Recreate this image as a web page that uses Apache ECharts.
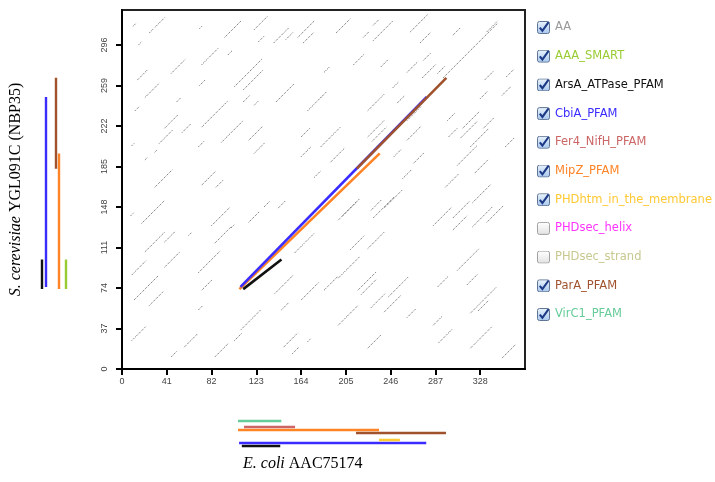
<!DOCTYPE html>
<html>
<head>
<meta charset="utf-8">
<script src="https://cdn.jsdelivr.net/npm/echarts@6/dist/echarts.min.js"></script>
<style>
  html, body { margin: 0; padding: 0; background: #fff; }
  #main { width: 715px; height: 482px; }
</style>
</head>
<body>
<div id="main"></div>
<script>
// axis extents (residues) and tick labels
const ecoliLength = 369;
const yeastLength = 328;
const xTicks = [0, 41, 82, 123, 164, 205, 246, 287, 328];
const yTicks = [0, 37, 74, 111, 148, 185, 222, 259, 296];

// legend entries, in order
const legendNames = ['AA', 'AAA_SMART', 'ArsA_ATPase_PFAM', 'CbiA_PFAM', 'Fer4_NifH_PFAM', 'MipZ_PFAM',
  'PHDhtm_in_the_membrane', 'PHDsec_helix', 'PHDsec_strand', 'ParA_PFAM', 'VirC1_PFAM'];
const legendChecked = [true, true, true, true, true, true, true, false, false, true, true];

// domain ranges on each protein (null = not shown)
const domainNames = ['AAA_SMART', 'ArsA_ATPase_PFAM', 'CbiA_PFAM', 'Fer4_NifH_PFAM', 'MipZ_PFAM',
  'PHDhtm_in_the_membrane', 'PHDsec_helix', 'PHDsec_strand', 'ParA_PFAM', 'VirC1_PFAM'];
const ecoliStart = [null, 111, 108.5, 113, 107.5, 236, null, null, 215, 107.5];
const ecoliEnd   = [null, 146, 279, 159.5, 236, 255, null, null, 297, 147];
const yeastStart = [73, 73, 75, null, 73, null, null, null, 183, null];
const yeastEnd   = [100, 100, 248.5, null, 197, null, null, null, 266, null];

// dot plot matches: [ecoli pos, yeast pos, run length]
const aaSegments = [
  [30,312,9],[10,313,3],[15,296,3],[25,307,4],[71,311,2],[94,303,15],[121,310,12],[125,299,5],
  [139,298,14],[150,301,7],[161,303,15],[166,298,10],[73,278,15],[45,270,13],[14,264,10],[97,287,4],
  [103,258,25],[111,255,18],[21,248,13],[50,244,4],[71,259,5],[73,221,24],[111,244,6],[121,241,4],
  [141,244,17],[170,236,13],[12,236,4],[39,220,12],[55,216,8],[91,207,20],[116,209,13],[121,197,10],
  [164,212,8],[164,194,9],[34,206,12],[70,203,5],[30,166,16],[73,168,13],[86,166,7],[176,175,6],
  [9,204,2],[21,191,2],[30,198,2],
  [18,133,21],[8,140,3],[21,107,18],[39,116,10],[61,122,3],[82,131,17],[116,134,10],[130,148,5],
  [143,147,7],[85,115,15],[39,93,14],[9,86,13],[70,88,20],[73,72,10],[11,63,22],[25,58,13],
  [100,129,3],[140,69,17],[148,115,21],[158,106,18],[164,63,16],[146,54,7],[70,54,4],[9,26,13],
  [57,20,12],[45,11,5],[85,11,12],[103,26,7],[109,36,18],[148,20,13],[156,14,6],[170,25,3],[112,73,4],
  [196,307,13],[221,303,5],[230,314,5],[230,300,18],[264,308,16],[303,305,7],[334,308,10],[212,278,10],
  [237,276,7],[185,271,5],[261,271,10],[273,298,10],[276,282,7],[275,266,12],[289,270,7],[294,266,50],
  [332,264,8],[352,267,7],[248,257,5],[182,248,5],[328,247,7],[348,250,8],[225,236,15],[252,243,7],
  [261,227,13],[298,227,7],[312,220,15],[331,220,10],[299,212,8],[310,211,15],[319,203,17],[182,203,18],
  [191,189,13],[225,212,15],[229,208,13],[249,194,7],[267,188,10],[261,209,13],[307,186,18],[323,179,12],
  [351,203,8],[257,174,8],[296,166,12],
  [198,136,20],[202,140,13],[228,145,10],[230,138,20],[240,147,17],[285,131,17],[303,138,15],[303,127,13],
  [321,130,18],[321,152,17],[334,134,15],[209,109,13],[225,110,15],[198,83,20],[185,72,13],[216,72,17],
  [219,68,14],[244,66,18],[289,75,10],[307,90,20],[316,77,10],[228,56,13],[240,52,15],[198,40,18],
  [261,47,8],[285,40,8],[319,51,24],[326,53,10],[225,19,12],[290,24,12],[319,19,20],[348,10,12]
];

// styles
const colors = {
  'AA': '#999999', 'AAA_SMART': '#99cc33', 'ArsA_ATPase_PFAM': '#111111', 'CbiA_PFAM': '#3a2cff',
  'Fer4_NifH_PFAM': '#cc6666', 'MipZ_PFAM': '#ff8426', 'PHDhtm_in_the_membrane': '#ffc933',
  'PHDsec_helix': '#ff33ff', 'PHDsec_strand': '#c8c890', 'ParA_PFAM': '#a0522d', 'VirC1_PFAM': '#66cc99'
};
const bottomLane = { 'VirC1_PFAM': 6, 'Fer4_NifH_PFAM': 12, 'MipZ_PFAM': 15, 'ParA_PFAM': 18,
  'PHDhtm_in_the_membrane': 25, 'CbiA_PFAM': 28, 'ArsA_ATPase_PFAM': 31 };
const leftLane = { 'ArsA_ATPase_PFAM': 12, 'CbiA_PFAM': 16, 'ParA_PFAM': 26, 'MipZ_PFAM': 29, 'AAA_SMART': 36 };
const diagonalOrder = ['MipZ_PFAM', 'CbiA_PFAM', 'ParA_PFAM', 'ArsA_ATPase_PFAM'];

const svgIcon = (checked) => {
  const box = checked
    ? "<defs><linearGradient id='g' x1='0' y1='0' x2='0' y2='1'><stop offset='0' stop-color='#e9f2fc'/><stop offset='1' stop-color='#a9c8ee'/></linearGradient></defs>" +
      "<rect x='0.5' y='0.5' width='12' height='12' rx='2' fill='url(#g)' stroke='#5f7594'/>" +
      "<path d='M2.8 6.6 L5.4 9.8 L11.6 1.2' fill='none' stroke='#1d3a86' stroke-width='2.1'/>"
    : "<defs><linearGradient id='g' x1='0' y1='0' x2='0' y2='1'><stop offset='0' stop-color='#ffffff'/><stop offset='1' stop-color='#e2e2e2'/></linearGradient></defs>" +
      "<rect x='0.5' y='0.5' width='12' height='12' rx='2' fill='url(#g)' stroke='#a0a0a0'/>";
  const svg = "<svg xmlns='http://www.w3.org/2000/svg' width='13' height='13' viewBox='0 0 13 13'>" + box + "</svg>";
  return 'image://data:image/svg+xml;utf8,' + encodeURIComponent(svg);
};

const series = [];
// background dot plot
series.push({
  type: 'custom', name: 'AA', xAxisIndex: 0, yAxisIndex: 0, silent: true, z: 1,
  data: aaSegments,
  renderItem: (params, api) => {
    const x = api.value(0), y = api.value(1), len = api.value(2);
    const p1 = api.coord([x, y]);
    const p2 = api.coord([x + len, y + len]);
    return {
      type: 'line',
      shape: { x1: p1[0], y1: p1[1], x2: p2[0], y2: p2[1] },
      style: { stroke: '#5a5a5a', lineWidth: 1, lineDash: [1, 1.2] }
    };
  }
});
// diagonal hits where a domain sits on both proteins
diagonalOrder.forEach((name, k) => {
  const i = domainNames.indexOf(name);
  if (ecoliStart[i] == null || yeastStart[i] == null) return;
  series.push({
    type: 'line', name, xAxisIndex: 0, yAxisIndex: 0, z: 3 + k, symbol: 'none', silent: true,
    lineStyle: { color: colors[name], width: 2.6 },
    data: [[ecoliStart[i], yeastStart[i]], [ecoliEnd[i], yeastEnd[i]]]
  });
});
// domain tracks under the x axis and beside the y axis
domainNames.forEach((name, i) => {
  if (ecoliStart[i] != null) {
    series.push({
      type: 'line', name, xAxisIndex: 1, yAxisIndex: 1, symbol: 'none', silent: true,
      lineStyle: { color: colors[name], width: 2.4 },
      data: [[ecoliStart[i], bottomLane[name]], [ecoliEnd[i], bottomLane[name]]]
    });
  }
  if (yeastStart[i] != null) {
    series.push({
      type: 'line', name, xAxisIndex: 2, yAxisIndex: 2, symbol: 'none', silent: true,
      lineStyle: { color: colors[name], width: 2.4 },
      data: [[leftLane[name], yeastStart[i]], [leftLane[name], yeastEnd[i]]]
    });
  }
  if (ecoliStart[i] == null && yeastStart[i] == null) {
    series.push({ type: 'line', name, xAxisIndex: 0, yAxisIndex: 0, data: [] });
  }
});

const chart = echarts.init(document.getElementById('main'));
chart.setOption({
  animation: false,
  backgroundColor: '#fff',
  title: {
    text: '{i|E. coli} AAC75174',
    left: 243, top: 456, padding: 0,
    textStyle: {
      fontFamily: 'Liberation Serif', fontSize: 16, fontWeight: 'normal', color: '#000',
      rich: { i: { fontFamily: 'Liberation Serif', fontSize: 16, fontStyle: 'italic', color: '#000' } }
    }
  },
  legend: {
    orient: 'vertical', left: 532, top: 16,
    itemWidth: 13, itemHeight: 13, itemGap: 15.7,
    selectedMode: false,
    textStyle: { fontFamily: 'DejaVu Sans', fontSize: 11.5 },
    data: legendNames.map((name, i) => ({
      name, icon: svgIcon(legendChecked[i]),
      textStyle: { color: colors[name], fontFamily: 'DejaVu Sans', fontSize: 11.5 }
    }))
  },
  grid: [
    { left: 120, top: 10, width: 405, height: 359, show: true, borderColor: '#222', borderWidth: 2 },
    { left: 120, top: 415, width: 405, height: 35 },
    { left: 30, top: 10, width: 40, height: 359 }
  ],
  xAxis: [
    {
      type: 'value', gridIndex: 0, min: 0, max: ecoliLength, interval: 41,
      axisLine: { lineStyle: { color: '#000', width: 2 } },
      axisTick: { customValues: xTicks, length: 6, lineStyle: { color: '#000', width: 2 } },
      axisLabel: { customValues: xTicks, margin: 8, fontSize: 9, color: '#444', fontFamily: 'Liberation Sans' },
      splitLine: { show: false }
    },
    { type: 'value', gridIndex: 1, min: 0, max: ecoliLength, show: false },
    { type: 'value', gridIndex: 2, min: 0, max: 40, show: false }
  ],
  yAxis: [
    {
      type: 'value', gridIndex: 0, min: 0, max: yeastLength, interval: 37,
      name: '{i|S. cerevisiae} YGL091C (NBP35)',
      nameLocation: 'middle', nameRotate: 90, nameGap: 98,
      nameTextStyle: {
        fontFamily: 'Liberation Serif', fontSize: 16, color: '#000',
        rich: { i: { fontFamily: 'Liberation Serif', fontSize: 16, fontStyle: 'italic', color: '#000' } }
      },
      axisLine: { lineStyle: { color: '#000', width: 2 } },
      axisTick: { customValues: yTicks, length: 6, lineStyle: { color: '#000', width: 2 } },
      axisLabel: { customValues: yTicks, rotate: 90, margin: 13, fontSize: 9, color: '#444', fontFamily: 'Liberation Sans' },
      splitLine: { show: false }
    },
    { type: 'value', gridIndex: 1, min: 0, max: 35, inverse: true, show: false },
    { type: 'value', gridIndex: 2, min: 0, max: yeastLength, show: false }
  ],
  series
});
</script>
</body>
</html>
